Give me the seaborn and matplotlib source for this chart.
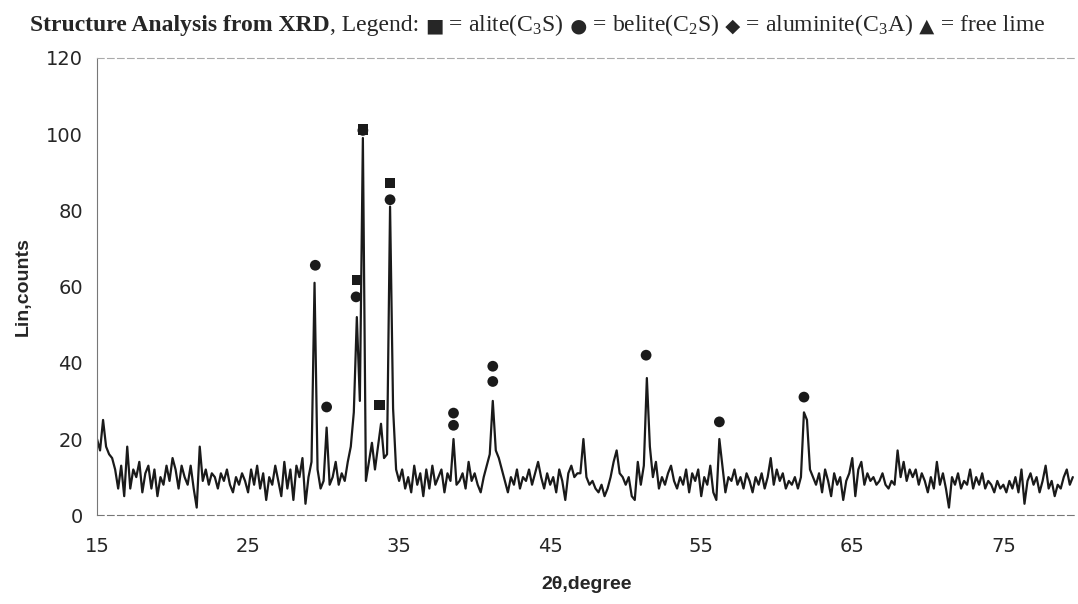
import numpy as np
import pandas as pd
import seaborn as sns
from matplotlib import pyplot as plt

# XRD scan, 0.2 degree step starting at 15 degrees (counts)
scan_start = 15.0
scan_step = 0.2
counts = [
    20, 17, 25, 18, 16, 15, 12, 7, 13, 5,        # 15.0
    18, 7, 12, 10, 14, 6, 11, 13, 7, 12,         # 17.0
    5, 10, 8, 13, 9, 15, 12, 7, 13, 10,          # 19.0
    8, 13, 7, 2, 18, 9, 12, 8, 11, 10,           # 21.0
    7, 11, 9, 12, 8, 6, 10, 8, 11, 9,            # 23.0
    6, 12, 8, 13, 7, 11, 4, 10, 8, 13,           # 25.0
    9, 5, 14, 7, 12, 4, 13, 10, 15, 3,           # 27.0
    10, 14, 61, 12, 7, 9, 23, 8, 10, 14,         # 29.0
    8, 11, 9, 14, 18, 27, 52, 30, 99, 9,         # 31.0
    14, 19, 12, 18, 24, 15, 16, 81, 28, 12,      # 33.0
    9, 12, 7, 10, 6, 13, 8, 11, 5, 12,           # 35.0
    7, 13, 8, 10, 12, 6, 11, 9, 20, 8,           # 37.0
    9, 11, 7, 14, 9, 11, 8, 6, 10, 13,           # 39.0
    16, 30, 17, 15, 12, 9, 6, 10, 8, 12,         # 41.0
    7, 10, 9, 12, 8, 11, 14, 10, 7, 11,          # 43.0
    8, 10, 6, 12, 9, 4, 11, 13, 10, 11,          # 45.0
    11, 20, 10, 8, 9, 7, 6, 8, 5, 7,             # 47.0
    10, 14, 17, 11, 10, 8, 10, 5, 4, 14,         # 49.0
    8, 13, 36, 18, 10, 14, 7, 10, 8, 11,         # 51.0
    13, 9, 7, 10, 8, 12, 6, 11, 9, 12,           # 53.0
    5, 10, 8, 13, 6, 4, 20, 13, 6, 10,           # 55.0
    9, 12, 8, 10, 7, 11, 9, 6, 10, 8,            # 57.0
    11, 7, 10, 15, 8, 12, 9, 11, 7, 9,           # 59.0
    8, 10, 7, 10, 27, 25, 12, 10, 8, 11,         # 61.0
    6, 12, 9, 5, 11, 8, 10, 4, 9, 11,            # 63.0
    15, 5, 12, 14, 8, 11, 9, 10, 8, 9,           # 65.0
    11, 8, 7, 9, 8, 17, 10, 14, 9, 12,           # 67.0
    10, 12, 8, 11, 9, 6, 10, 7, 14, 8,           # 69.0
    11, 7, 2, 10, 8, 11, 7, 9, 8, 12,            # 71.0
    7, 10, 8, 11, 7, 9, 8, 6, 9, 7,              # 73.0
    8, 6, 9, 7, 10, 6, 12, 3, 9, 11,             # 75.0
    8, 10, 6, 9, 13, 7, 9, 5, 8, 7,              # 77.0
    10, 12, 8, 10,                               # 79.0
]
two_theta = scan_start + scan_step * np.arange(len(counts))

# phase labels above the peaks
alite_x = [32.2, 32.6, 33.7, 34.4]
alite_y = [61.7, 101.2, 28.9, 87.2]
belite_x = [29.45, 30.2, 32.15, 32.6, 34.4, 38.6, 38.6, 41.2, 41.2, 51.35, 56.2, 61.8]
belite_y = [65.6, 28.4, 57.3, 101.0, 82.8, 23.6, 26.8, 35.1, 39.1, 42.0, 24.5, 31.0]

scan = pd.DataFrame({"two_theta": two_theta, "counts": counts})

sns.set_style("white")
plt.rcParams["mathtext.fontset"] = "custom"
plt.rcParams["mathtext.rm"] = "Liberation Serif"
plt.rcParams["mathtext.it"] = "Liberation Serif:italic"

fig = plt.figure(figsize=(10.78, 6.04), dpi=100)
ax = fig.add_axes([0.09, 0.147, 0.908, 0.757])

sns.lineplot(data=scan, x="two_theta", y="counts", ax=ax, color="#1a1a1a", linewidth=1.6)
sns.scatterplot(x=alite_x, y=alite_y, ax=ax, marker="s", s=55, color="#1a1a1a",
                edgecolor="none", zorder=3)
sns.scatterplot(x=belite_x, y=belite_y, ax=ax, marker="o", s=60, color="#1a1a1a",
                edgecolor="none", zorder=3)

ax.set_xlim(15, 79.8)
ax.set_ylim(0, 120)
ax.set_xticks([15, 25, 35, 45, 55, 65, 75])
ax.set_yticks([0, 20, 40, 60, 80, 100, 120])
ax.tick_params(axis="both", labelsize=14, length=4, width=0.8, color="#555555",
               direction="out", pad=6)
ax.tick_params(axis="x", pad=12)
for side in ["top", "left", "bottom"]:
    ax.spines[side].set_color("#777777")
    ax.spines[side].set_linewidth(0.8)
ax.spines["top"].set_linestyle((0, (6, 3)))
ax.spines["top"].set_color("#aaaaaa")
ax.spines["bottom"].set_linestyle((0, (6, 3)))
ax.spines["right"].set_visible(False)

ax.set_xlabel("2θ,degree", fontsize=14, fontweight="bold", family="Liberation Sans", labelpad=14)
ax.set_ylabel("Lin,counts", fontsize=14, fontweight="bold", family="Liberation Sans", labelpad=10)

# title with inline legend, written piece by piece
serif = "Liberation Serif"
symbols = "DejaVu Sans"
pieces = [
    ("Structure Analysis from XRD", serif, "bold", 17),
    (", Legend: ", serif, "normal", 17),
    ("■", symbols, "normal", 14),
    (" = alite(C$_3$S)", serif, "normal", 17),
    (" ●", symbols, "normal", 14),
    (" = belite(C$_2$S)", serif, "normal", 17),
    (" ◆", symbols, "normal", 14),
    (" = aluminite(C$_3$A)", serif, "normal", 17),
    (" ▲", symbols, "normal", 14),
    (" = free lime", serif, "normal", 17),
]
renderer = fig.canvas.get_renderer()
x = 0.028
for txt, fam, weight, size in pieces:
    t = fig.text(x, 0.948, txt, fontsize=size, family=fam, fontweight=weight, va="baseline")
    bb = t.get_window_extent(renderer)
    x = bb.x1 / fig.bbox.width

plt.savefig("out.png", dpi=100)
